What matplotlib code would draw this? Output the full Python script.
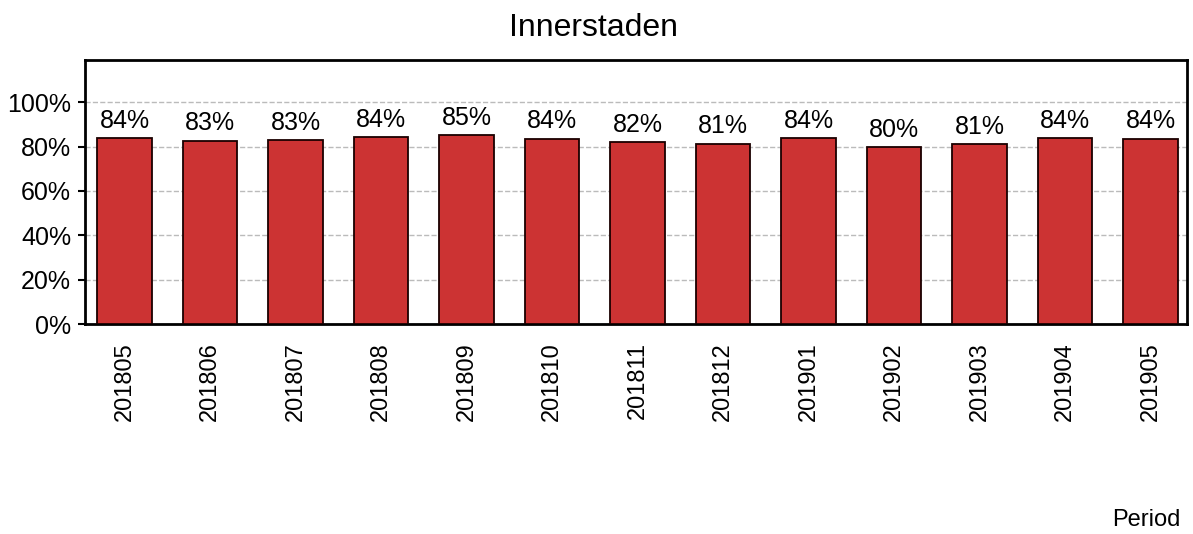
import numpy as np
import matplotlib.pyplot as plt
from matplotlib.ticker import PercentFormatter

plt.rcParams['font.family'] = ['Liberation Sans', 'DejaVu Sans']

periods = ['201805', '201806', '201807', '201808', '201809', '201810', '201811',
           '201812', '201901', '201902', '201903', '201904', '201905']
values = [0.838, 0.826, 0.828, 0.842, 0.851, 0.836, 0.820,
          0.812, 0.838, 0.797, 0.811, 0.838, 0.835]

fig = plt.figure(figsize=(11.93, 5.34), dpi=100)
ax = fig.add_axes([85 / 1193, 1 - 324 / 534, 1102 / 1193, 264 / 534])

x = np.arange(len(periods))
ax.bar(x, values, width=0.643, color='#cc3333', edgecolor='#1a0000', linewidth=1.3, zorder=3)
for xi, v in zip(x, values):
    ax.text(xi, v + 0.025, f'{round(v * 100):.0f}%', ha='center', va='bottom', fontsize=18)

ax.set_xlim(-0.462, 12.427)
ax.set_ylim(0, 1.19)
ax.set_yticks([0, 0.2, 0.4, 0.6, 0.8, 1.0])
ax.yaxis.set_major_formatter(PercentFormatter(1.0, decimals=0))
ax.set_xticks(x)
ax.set_xticklabels(periods, rotation=90, fontsize=17)
ax.tick_params(axis='x', length=0, pad=13)
ax.tick_params(axis='y', labelsize=18, length=5, width=1.5, direction='out', pad=5)
ax.grid(axis='y', linestyle='--', color='#bbbbbb', linewidth=1, zorder=0)
for s in ax.spines.values():
    s.set_linewidth(2)
    s.set_color('black')

# title is centred on the figure, not the axes
fig.text(594 / 1193, 1 - 36 / 534, 'Innerstaden', ha='center', va='baseline', fontsize=23)
fig.text(1180 / 1193, 1 - 520 / 534, 'Period', ha='right', va='center', fontsize=17)

fig.savefig('out.png', dpi=100)
